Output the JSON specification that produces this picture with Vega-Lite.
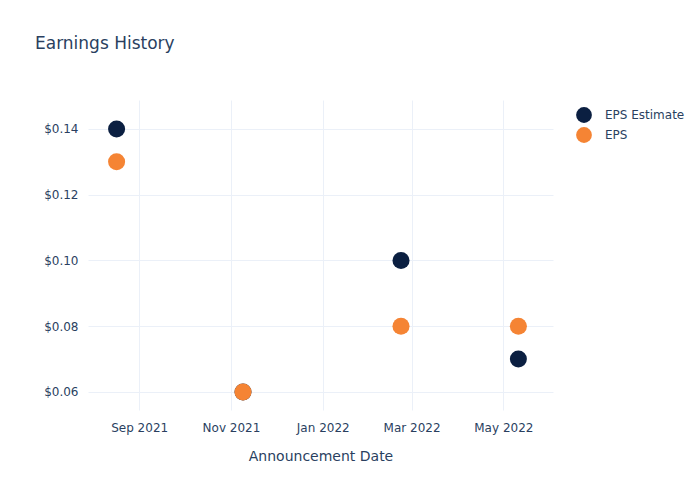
{
  "$schema": "https://vega.github.io/schema/vega-lite/v6.json",
  "autosize": "none",
  "width": 465,
  "height": 310,
  "padding": {"left": 88, "top": 100, "right": 147, "bottom": 90},
  "background": "white",
  "title": {
    "text": "Earnings History",
    "anchor": "start",
    "frame": "group",
    "dx": -53,
    "offset": 47,
    "font": "DejaVu Sans",
    "fontSize": 17,
    "fontWeight": "normal",
    "color": "#2a3f5f"
  },
  "config": {
    "view": {"stroke": null},
    "font": "DejaVu Sans"
  },
  "data": {
    "values": [
      {"date": "2021-08-17", "series": "EPS Estimate", "value": 0.14},
      {"date": "2021-11-09", "series": "EPS Estimate", "value": 0.06},
      {"date": "2022-02-22", "series": "EPS Estimate", "value": 0.10},
      {"date": "2022-05-11", "series": "EPS Estimate", "value": 0.07},
      {"date": "2021-08-17", "series": "EPS", "value": 0.13},
      {"date": "2021-11-09", "series": "EPS", "value": 0.06},
      {"date": "2022-02-22", "series": "EPS", "value": 0.08},
      {"date": "2022-05-11", "series": "EPS", "value": 0.08}
    ]
  },
  "mark": {"type": "circle", "size": 290, "opacity": 1},
  "encoding": {
    "x": {
      "field": "date",
      "type": "temporal",
      "scale": {"type": "utc", "domain": ["2021-07-29", "2022-06-03"]},
      "axis": {
        "title": "Announcement Date",
        "titleFontSize": 14,
        "titleFontWeight": "normal",
        "titleColor": "#2a3f5f",
        "titlePadding": 16,
        "values": [
          {"year": 2021, "month": 9, "date": 1, "utc": true},
          {"year": 2021, "month": 11, "date": 1, "utc": true},
          {"year": 2022, "month": 1, "date": 1, "utc": true},
          {"year": 2022, "month": 3, "date": 1, "utc": true},
          {"year": 2022, "month": 5, "date": 1, "utc": true}
        ],
        "format": "%b %Y",
        "labelFontSize": 12,
        "labelColor": "#2a3f5f",
        "labelPadding": 12,
        "domain": false,
        "ticks": false,
        "gridColor": "#ebf0f8",
        "gridWidth": 1
      }
    },
    "y": {
      "field": "value",
      "type": "quantitative",
      "scale": {"domain": [0.0545, 0.1488], "nice": false, "zero": false},
      "axis": {
        "title": null,
        "values": [0.06, 0.08, 0.10, 0.12, 0.14],
        "format": "$.2f",
        "labelFontSize": 12,
        "labelColor": "#2a3f5f",
        "labelPadding": 10,
        "domain": false,
        "ticks": false,
        "gridColor": "#ebf0f8",
        "gridWidth": 1
      }
    },
    "color": {
      "field": "series",
      "type": "nominal",
      "sort": ["EPS Estimate", "EPS"],
      "scale": {"domain": ["EPS Estimate", "EPS"], "range": ["#0b1f41", "#f58434"]},
      "legend": {
        "title": null,
        "orient": "none",
        "legendX": 487,
        "legendY": 6,
        "symbolType": "circle",
        "symbolSize": 250,
        "symbolOpacity": 1,
        "labelFontSize": 12,
        "labelColor": "#2a3f5f",
        "rowPadding": 3,
        "labelOffset": 12
      }
    }
  }
}
